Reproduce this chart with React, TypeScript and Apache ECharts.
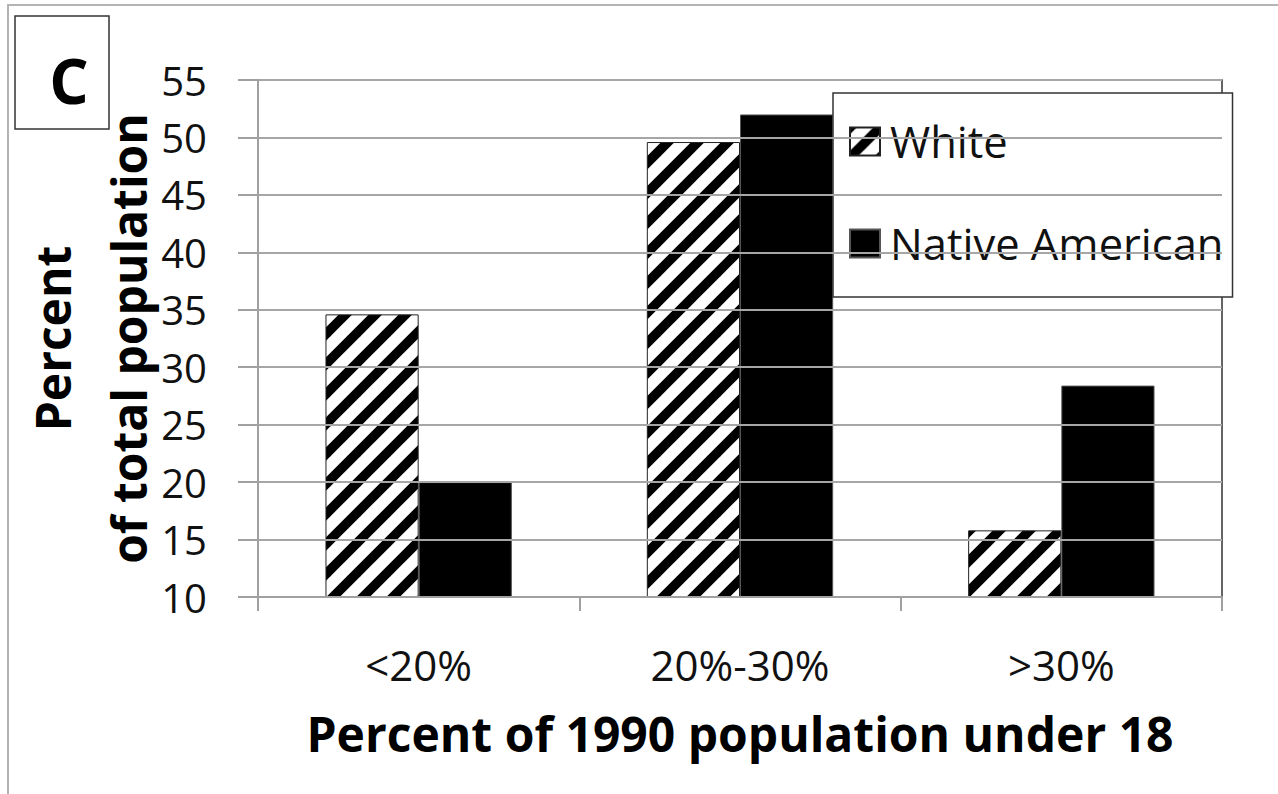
import React, { useEffect, useRef } from "react";
import * as echarts from "echarts";

const categories = ["<20%", "20%-30%", ">30%"];
const whiteValues = [34.6, 49.6, 15.8];
const nativeValues = [20.0, 52.0, 28.4];
const yTicks = { min: 10, max: 55, interval: 5 };
const seriesNames = ["White", "Native American"];
const xTitle = "Percent of 1990 population under 18";
const yTitle = "Percent\nof total population";
const panelLetter = "C";

function makeHatch(): HTMLCanvasElement {
  const c = document.createElement("canvas");
  c.width = 30;
  c.height = 30;
  const ctx = c.getContext("2d")!;
  ctx.fillStyle = "#ffffff";
  ctx.fillRect(0, 0, 30, 30);
  ctx.strokeStyle = "#000000";
  ctx.lineWidth = 9.5;
  for (const k of [-30, 0, 30]) {
    ctx.beginPath();
    ctx.moveTo(k - 10, 40);
    ctx.lineTo(k + 40, -10);
    ctx.stroke();
  }
  return c;
}

export default function App() {
  const ref = useRef<HTMLDivElement>(null);
  useEffect(() => {
    if (!ref.current) return;
    const chart = echarts.init(ref.current, undefined, { renderer: "svg" });
    const hatch = makeHatch();
    const font = "'Open Sans', sans-serif";
    chart.setOption({
      animation: false,
      backgroundColor: "#ffffff",
      textStyle: { fontFamily: font },
      grid: {
        left: 258,
        right: 56,
        top: 80,
        bottom: 197,
        show: true,
        borderColor: "#333333",
        borderWidth: 1.5,
        backgroundColor: "transparent",
        containLabel: false,
        outerBoundsMode: "none",
      },
      legend: {
        orient: "vertical",
        left: 833,
        top: 93,
        padding: [26, 9, 31, 16],
        itemWidth: 30,
        itemHeight: 28,
        itemGap: 57,
        icon: "rect",
        backgroundColor: "#ffffff",
        borderColor: "#333333",
        borderWidth: 1.5,
        textStyle: { fontSize: 43.5, color: "#111111", fontFamily: font, lineHeight: 42, padding: [0, 0, 3, 5] },
        data: seriesNames,
      },
      xAxis: {
        type: "category",
        data: categories,
        axisLine: { show: true, lineStyle: { color: "#a0a0a0", width: 2 } },
        axisTick: { show: true, length: 14, lineStyle: { color: "#a0a0a0", width: 2 } },
        axisLabel: { fontSize: 42, color: "#111111", margin: 46, fontFamily: font },
        name: xTitle,
        nameLocation: "middle",
        nameGap: 112,
        nameMoveOverlap: false,
        nameTextStyle: { fontSize: 48, fontWeight: "bold", color: "#000000", fontFamily: font },
        z: 5,
      },
      yAxis: {
        type: "value",
        min: yTicks.min,
        max: yTicks.max,
        interval: yTicks.interval,
        axisLine: { show: true, lineStyle: { color: "#a0a0a0", width: 2 } },
        axisTick: { show: true, length: 20, lineStyle: { color: "#a0a0a0", width: 2 } },
        axisLabel: { fontSize: 40, color: "#111111", margin: 51, fontFamily: font },
        splitLine: { show: true, lineStyle: { color: "#a6a6a6", width: 2 } },
        name: yTitle,
        nameLocation: "middle",
        nameRotate: 90,
        nameGap: 92,
        nameMoveOverlap: false,
        nameTextStyle: { fontSize: 48, fontWeight: "bold", color: "#000000", fontFamily: font, lineHeight: 76 },
        z: 5,
      },
      series: [
        {
          name: seriesNames[0],
          type: "bar",
          data: whiteValues,
          barGap: "0%",
          barCategoryGap: "42%",
          itemStyle: {
            color: { image: hatch, repeat: "repeat" },
            borderColor: "#222222",
            borderWidth: 1,
          },
        },
        {
          name: seriesNames[1],
          type: "bar",
          data: nativeValues,
          barGap: "0%",
          barCategoryGap: "42%",
          itemStyle: { color: "#000000", borderColor: "#555555", borderWidth: 1 },
        },
      ],
      graphic: [
        {
          type: "rect",
          shape: { x: 8, y: 5, width: 1400, height: 900 },
          style: { fill: "none", stroke: "#b4b4b4", lineWidth: 2 },
          z: 10,
        },
        {
          type: "rect",
          shape: { x: 15, y: 16, width: 94, height: 113 },
          style: { fill: "#ffffff", stroke: "#333333", lineWidth: 1.5 },
          z: 10,
        },
        {
          type: "text",
          x: 69,
          y: 80,
          style: {
            text: panelLetter,
            font: "bold 62px 'Open Sans', sans-serif",
            fill: "#000000",
            align: "center",
            verticalAlign: "middle",
          },
          z: 11,
        },
      ],
    });
    return () => chart.dispose();
  }, []);
  return (
    <div
      ref={ref}
      style={{ position: "absolute", left: 0, top: 0, width: 1278, height: 794 }}
    />
  );
}
